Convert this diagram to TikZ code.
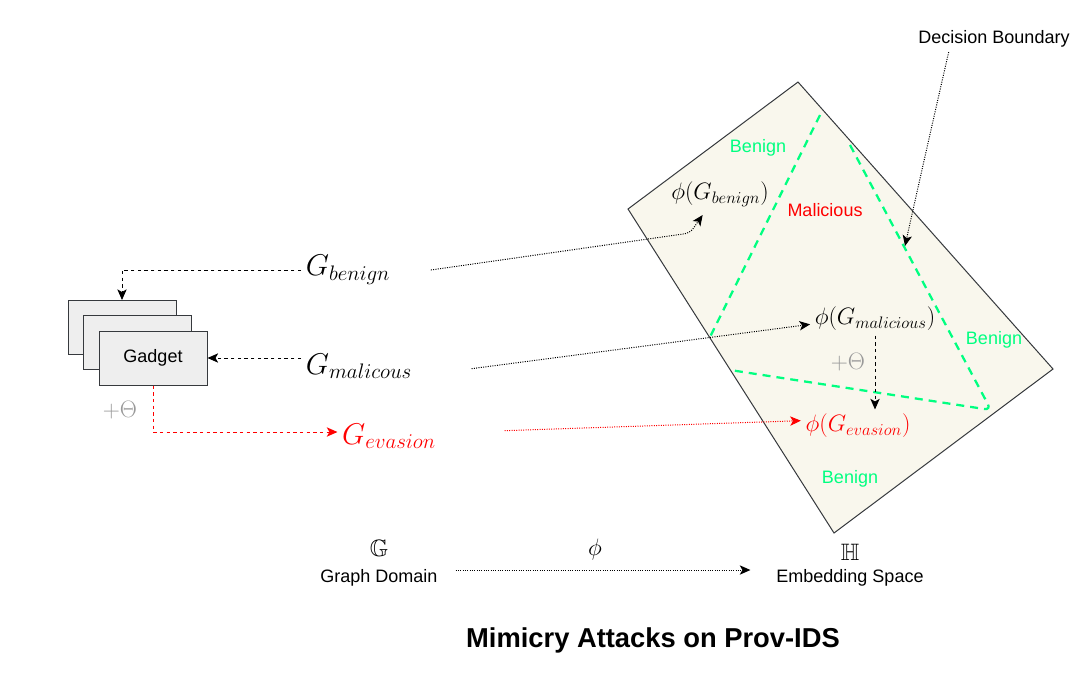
\RequirePackage{fix-cm}
\documentclass[tikz,border=0pt]{standalone}
\usepackage{amsmath, amssymb}
\usepackage{fontspec}
\setmainfont{Liberation Sans}
\usepackage{tikz}
\usetikzlibrary{arrows.meta}
\definecolor{gadgetfill}{HTML}{EEEEEE}
\definecolor{gadgetline}{HTML}{36393D}
\definecolor{spacefill}{HTML}{F9F7ED}
\definecolor{boundary}{HTML}{00FF80}
\definecolor{evasion}{HTML}{FF0000}
\definecolor{thetagray}{HTML}{999999}
\tikzset{
  lbl/.style={font=\fontsize{13.5}{16}\selectfont},
  glbl/.style={font=\fontsize{22.5}{26}\selectfont},
  plbl/.style={font=\fontsize{17.8}{21}\selectfont},
  gadgetbox/.style={draw=gadgetline, fill=gadgetfill, line width=0.75pt,
    minimum width=81pt, minimum height=40.5pt, lbl},
  tip/.style={-{Stealth[length=8pt,width=7pt,inset=2pt]}},
  dashedline/.style={tip, line width=0.75pt, dash pattern=on 2.5pt off 2.5pt},
  dottedline/.style={tip, line width=0.75pt, dash pattern=on 0.75pt off 1pt},
  boundline/.style={boundary, line width=1.7pt, dash pattern=on 6pt off 4.5pt}
}
\begin{document}
\begin{tikzpicture}[x=0.75pt, y=-0.75pt]
            \useasboundingbox (0,0) rectangle (1080,676);
            % embedding space
            \draw[gadgetline, fill=spacefill, line width=0.75pt] (798,82) -- (1053,369) -- (834,533) -- (628,209) -- cycle;
            \draw[boundline] (820,115) -- (710,337);
            \draw[boundline, rounded corners=5pt] (850,145) -- (991,410) -- (730,370);
            \node[lbl, text=boundary] (b1) at (758,148) {Benign};
            \node[lbl, text=evasion] (mal) at (825,210) {Malicious};
            \node[lbl, text=boundary] (b2) at (994,340) {Benign};
            \node[lbl, text=boundary] (b3) at (850,479) {Benign};
            \node[plbl] (pben) at (720,194) {$\phi(G_{benign})$};
            \node[plbl] (pmal) at (875,319) {$\phi(G_{malicious})$};
            \node[plbl, text=thetagray] (th2) at (848,362) {$+\Theta$};
            \node[plbl, text=evasion] (peva) at (858,426) {$\phi(G_{evasion})$};
            \node[lbl] (db) at (994,39) {Decision Boundary};
            \coordinate (dbtip) at (905,246);
            % gadgets
            \node[gadgetbox] (box1) at (122,327.5) {};
            \node[gadgetbox] (box2) at (137.5,342.5) {};
            \node[gadgetbox] (box3) at (153,358) {Gadget};
            \node[plbl, text=thetagray] (th1) at (120,410) {$+\Theta$};
            \node[glbl] (gben) at (348,270) {$G_{benign}$};
            \node[glbl] (gmal) at (359,366) {$G_{malicous}$};
            \node[glbl, text=evasion] (geva) at (389,436) {$G_{evasion}$};
            % domains
            \node[plbl] (gg) at (379,548) {$\mathbb{G}$};
            \node[lbl] (gd) at (379,578) {Graph Domain};
            \node[plbl] (phi) at (595,550) {$\phi$};
            \node[plbl] (hh) at (850,552) {$\mathbb{H}$};
            \node[lbl] (es) at (850,578) {Embedding Space};
            \node[font=\fontsize{20.5}{24}\selectfont\bfseries] (title) at (653,640) {Mimicry Attacks on Prov-IDS};
            % connectors
            \draw[dashedline] (gben.west) -| (box1.north);
            \draw[dashedline] (gmal.west |- box3.east) -- (box3.east);
            \draw[dashedline, evasion] (box3.south) |- ([yshift=3pt]geva.west);
            \draw[dottedline, rounded corners=4pt] ([xshift=27pt]gben.east) -- (690,233) -- ([xshift=-13pt,yshift=-3pt]pben.south);
            \draw[dottedline] ([xshift=41pt,yshift=-2pt]gmal.east) -- ([yshift=-4pt]pmal.west);
            \draw[dottedline, evasion] ([xshift=48pt,yshift=4pt]geva.east) -- ([yshift=4pt]peva.west);
            \draw[dashedline] (pmal.south) -- (pmal.south |- peva.north);
            \draw[dottedline] ([xshift=-34pt]db.south) .. controls (932,125) and (914,205) .. (dbtip);
            \draw[dottedline] ([xshift=10pt,yshift=6pt]gd.east) -- ([xshift=-16pt,yshift=6pt]es.west);
        \end{tikzpicture}
\end{document}
